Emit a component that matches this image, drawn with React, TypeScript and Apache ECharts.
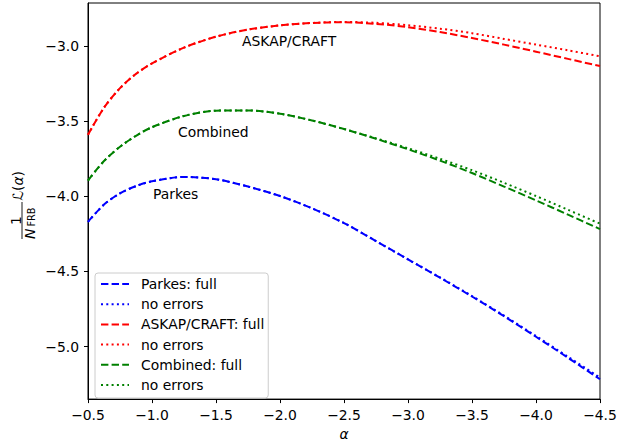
import React, { useEffect, useRef } from "react";
import * as echarts from "echarts";

const alphaVals = [-0.5, -0.625, -0.75, -0.875, -1.0, -1.25, -1.5, -1.75, -2.0, -2.25, -2.5, -2.75, -3.0, -3.25, -3.5, -3.75, -4.0, -4.25, -4.5];

const parkesFull = [-4.17, -4.055, -3.98, -3.932, -3.9, -3.871, -3.886, -3.935, -3.998, -4.08, -4.178, -4.298, -4.42, -4.542, -4.667, -4.798, -4.935, -5.075, -5.218];
const parkesNoErr = [-4.17, -4.055, -3.98, -3.932, -3.9, -3.871, -3.886, -3.935, -3.998, -4.08, -4.178, -4.298, -4.42, -4.54, -4.664, -4.794, -4.93, -5.068, -5.207];
const askapFull = [-3.59, -3.41, -3.28, -3.185, -3.115, -3.01, -2.937, -2.89, -2.862, -2.846, -2.841, -2.852, -2.874, -2.906, -2.946, -2.99, -3.037, -3.085, -3.133];
const askapNoErr = [-3.59, -3.41, -3.28, -3.185, -3.115, -3.01, -2.937, -2.89, -2.862, -2.846, -2.839, -2.845, -2.861, -2.884, -2.914, -2.952, -2.99, -3.028, -3.068];
const combFull = [-3.895, -3.765, -3.67, -3.597, -3.54, -3.465, -3.43, -3.428, -3.45, -3.495, -3.552, -3.617, -3.687, -3.762, -3.845, -3.935, -4.027, -4.122, -4.218];
const combNoErr = [-3.895, -3.765, -3.67, -3.597, -3.54, -3.465, -3.43, -3.428, -3.45, -3.495, -3.552, -3.614, -3.68, -3.75, -3.826, -3.91, -3.998, -4.09, -4.182];

const yTicks = [-5.0, -4.5, -4.0, -3.5, -3.0];

const seriesNames = ["Parkes: full", "no errors#P", "ASKAP/CRAFT: full", "no errors#A", "Combined: full", "no errors#C"];
const seriesColors = ["#0000ff", "#0000ff", "#ff0000", "#ff0000", "#008000", "#008000"];
const seriesData = [parkesFull, parkesNoErr, askapFull, askapNoErr, combFull, combNoErr];

const annotations = [
  { text: "ASKAP/CRAFT", left: 242, top: 34 },
  { text: "Combined", left: 178, top: 125 },
  { text: "Parkes", left: 153, top: 187 },
];

const FONT = "DejaVu Sans";
const FS = 13.9;
const DASHED = [7.4, 3.2];
const DOTTED = [2, 3.3];

const fmt = (v: number) => (v < 0 ? "\u2212" : "") + Math.abs(v).toFixed(1);

export default function App() {
  const ref = useRef<HTMLDivElement>(null);
  useEffect(() => {
    if (!ref.current) return;
    const chart = echarts.init(ref.current, undefined, { renderer: "svg" });
    const series = seriesNames.map((name, i) => ({
      name,
      type: "line",
      data: alphaVals.map((a, j) => [a, seriesData[i][j]]),
      symbol: "none",
      smooth: 0.3,
      lineStyle: { color: seriesColors[i], width: 2, type: i % 2 === 0 ? DASHED : DOTTED },
      itemStyle: { color: seriesColors[i] },
      emphasis: { disabled: true },
    }));
    chart.setOption({
      animation: false,
      grid: { left: 88, right: 34, top: 3, bottom: 41, show: true, borderColor: "#000", borderWidth: 1 },
      xAxis: {
        type: "value",
        min: -4.5,
        max: -0.5,
        interval: 0.5,
        inverse: true,
        name: "\u03b1",
        nameLocation: "middle",
        nameGap: 24,
        nameTextStyle: { fontFamily: FONT, fontSize: FS, fontStyle: "italic", color: "#000" },
        axisLine: { lineStyle: { color: "#000", width: 1 } },
        axisTick: { inside: false, length: 4, lineStyle: { color: "#000" } },
        axisLabel: { formatter: fmt, fontFamily: FONT, fontSize: FS, color: "#000", margin: 9 },
        splitLine: { show: false },
      },
      yAxis: {
        type: "value",
        min: -5.35,
        max: -2.713,
        axisLine: { show: true, lineStyle: { color: "#000", width: 1 } },
        axisTick: { show: true, inside: false, length: 4, customValues: yTicks, lineStyle: { color: "#000" } },
        axisLabel: { customValues: yTicks, formatter: fmt, fontFamily: FONT, fontSize: FS, color: "#000", margin: 9 },
        splitLine: { show: false },
      },
      legend: {
        orient: "vertical",
        left: 95,
        top: 273,
        itemWidth: 28,
        itemHeight: 14,
        itemGap: 6.2,
        padding: [4, 4, 6, 5],
        backgroundColor: "rgba(255,255,255,0.8)",
        borderColor: "#cccccc",
        borderWidth: 1,
        borderRadius: 3,
        selectedMode: false,
        itemStyle: { opacity: 0 },
        data: seriesNames,
        formatter: (n: string) => (n.startsWith("no errors") ? "no errors" : n),
        textStyle: { fontFamily: FONT, fontSize: FS, color: "#000", padding: [0, 0, 0, 7] },
      },
      graphic: [
        ...annotations.map((a) => ({
          type: "text",
          left: a.left,
          top: a.top,
          style: { text: a.text, font: `${FS}px "${FONT}"`, fill: "#000" },
        })),
        {
          type: "group",
          x: 22,
          y: 206,
          rotation: Math.PI / 2,
          children: [
            { type: "text", x: -14.5, y: -6.5, style: { text: "1", font: `${FS}px "${FONT}"`, fill: "#000", align: "center", verticalAlign: "middle" } },
            { type: "line", shape: { x1: -33, y1: 0, x2: 4, y2: 0 }, style: { stroke: "#000", lineWidth: 0.9 } },
            { type: "text", x: -33, y: 7.5, style: { text: "N", font: `italic ${FS}px "${FONT}"`, fill: "#000", align: "left", verticalAlign: "middle" } },
            { type: "text", x: -20.5, y: 9.5, style: { text: "FRB", font: `9.7px "${FONT}"`, fill: "#000", align: "left", verticalAlign: "middle" } },
            {
              type: "text",
              x: 5,
              y: -4,
              style: {
                text: "{a|\u2112(}{b|\u03b1}{a|)}",
                align: "left",
                verticalAlign: "middle",
                rich: {
                  a: { fontFamily: FONT, fontSize: FS, color: "#000" },
                  b: { fontFamily: FONT, fontSize: FS, fontStyle: "italic", color: "#000" },
                },
              },
            },
          ],
        },
      ],
      series,
    });
    return () => chart.dispose();
  }, []);
  return <div ref={ref} style={{ width: 634, height: 446, position: "absolute", left: 0, top: 0 }} />;
}
